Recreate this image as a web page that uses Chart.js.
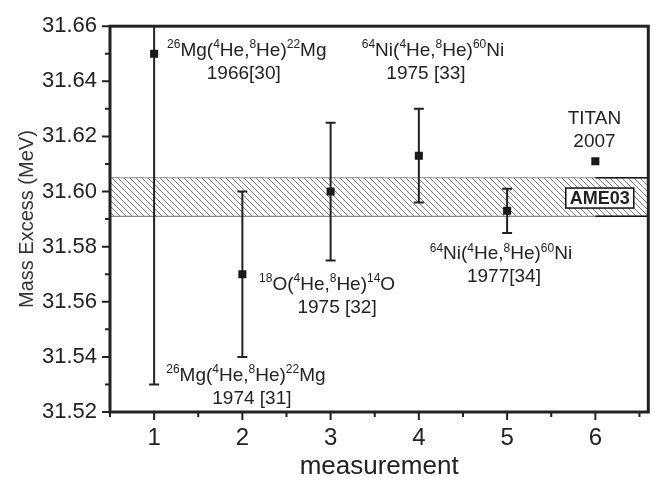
<!DOCTYPE html>
<html>
<head>
<meta charset="utf-8">
<script src="https://cdn.jsdelivr.net/npm/chart.js@4.4.0/dist/chart.umd.min.js"></script>
<style>
    html, body { margin: 0; padding: 0; background: #fff; }
</style>
</head>
<body>
<canvas id="myChart" width="654" height="482"></canvas>
<script>
// Dane
const measurements = [1, 2, 3, 4, 5, 6];
const massExcess = [31.650, 31.570, 31.600, 31.613, 31.593, 31.611];
const errors = [0.120, 0.030, 0.025, 0.017, 0.008, 0.0007];
const ame03Band = [31.591, 31.605];
const xTicks = [1, 2, 3, 4, 5, 6];
const xMinorTicks = [0.5, 1.5, 2.5, 3.5, 4.5, 5.5, 6.5];
const yTicks = [31.52, 31.54, 31.56, 31.58, 31.60, 31.62, 31.64, 31.66];
const yMinorTicks = [31.53, 31.55, 31.57, 31.59, 31.61, 31.63, 31.65];

// Opisy punktow (^ = indeks gorny), shift = przesuniecie drugiej linii w px
const notes = [
    { x: 2.05, y: 31.6493, shift: -3, lines: ['^26Mg(^4He,^8He)^22Mg', '1966[30]'] },
    { x: 4.16, y: 31.6493, shift: -7, lines: ['^64Ni(^4He,^8He)^60Ni', '1975 [33]'] },
    { x: 5.99, y: 31.6245, shift: 0, lines: ['TITAN', '2007'] },
    { x: 4.93, y: 31.5754, shift: 3, lines: ['^64Ni(^4He,^8He)^60Ni', '1977[34]'] },
    { x: 2.96, y: 31.5644, shift: 10, lines: ['^18O(^4He,^8He)^14O', '1975 [32]'] },
    { x: 2.04, y: 31.5314, shift: 6, lines: ['^26Mg(^4He,^8He)^22Mg', '1974 [31]'] }
];

const FONT = '"Liberation Sans", Arial, sans-serif';
const INK = '#222';

function hatchPattern(ctx) {
    const c = document.createElement('canvas');
    c.width = 6; c.height = 6;
    const g = c.getContext('2d');
    g.strokeStyle = '#6a6a6a';
    g.lineWidth = 0.9;
    g.beginPath();
    g.moveTo(-1, -1); g.lineTo(7, 7);
    g.moveTo(-1, 5); g.lineTo(1, 7);
    g.moveTo(5, -1); g.lineTo(7, 1);
    g.stroke();
    return ctx.createPattern(c, 'repeat');
}

function drawRich(ctx, str, cx, y, size) {
    const parts = [];
    str.replace(/\^(\d+)|([^^]+)/g, (m, sup, txt) => {
        parts.push(sup ? { t: sup, sup: true } : { t: txt, sup: false });
    });
    const supSize = Math.round(size * 0.64);
    let w = 0;
    parts.forEach(p => {
        ctx.font = (p.sup ? supSize : size) + 'px ' + FONT;
        p.w = ctx.measureText(p.t).width;
        w += p.w;
    });
    let x = cx - w / 2;
    parts.forEach(p => {
        ctx.font = (p.sup ? supSize : size) + 'px ' + FONT;
        ctx.fillText(p.t, x, p.sup ? y - size * 0.4 : y);
        x += p.w;
    });
}

// Pas AME03 i slupki bledow
const backdrop = {
    id: 'backdrop',
    beforeDatasetsDraw(chart) {
        const { ctx, chartArea: a, scales: { x, y } } = chart;
        const top = y.getPixelForValue(ame03Band[1]);
        const bot = y.getPixelForValue(ame03Band[0]);
        ctx.save();
        ctx.fillStyle = hatchPattern(ctx);
        ctx.fillRect(a.left, top, a.right - a.left, bot - top);
        ctx.strokeStyle = '#8a8a8a';
        ctx.lineWidth = 1.2;
        ctx.beginPath();
        ctx.moveTo(a.left, top); ctx.lineTo(a.right, top);
        ctx.moveTo(a.left, bot); ctx.lineTo(a.right, bot);
        ctx.stroke();
        const x6 = x.getPixelForValue(6);
        ctx.strokeStyle = '#111';
        ctx.lineWidth = 1.5;
        ctx.beginPath();
        ctx.moveTo(x6, top); ctx.lineTo(a.right, top);
        ctx.moveTo(x6, bot); ctx.lineTo(a.right, bot);
        ctx.stroke();

        // etykieta AME03
        ctx.font = 'bold 18px ' + FONT;
        const tw = ctx.measureText('AME03').width;
        const bx = x.getPixelForValue(6.05) - tw / 2 - 4;
        const by = (top + bot) / 2 - 9;
        ctx.fillStyle = '#fff';
        ctx.fillRect(bx, by, tw + 8, 20);
        ctx.strokeStyle = '#111';
        ctx.lineWidth = 1.5;
        ctx.strokeRect(bx, by, tw + 8, 20);
        ctx.fillStyle = INK;
        ctx.textAlign = 'left';
        ctx.textBaseline = 'middle';
        ctx.fillText('AME03', bx + 4, by + 11);

        // slupki bledow
        ctx.beginPath();
        ctx.rect(a.left, a.top, a.right - a.left, a.bottom - a.top);
        ctx.clip();
        ctx.strokeStyle = INK;
        ctx.lineWidth = 2;
        measurements.forEach((m, i) => {
            const px = x.getPixelForValue(m);
            const hi = y.getPixelForValue(massExcess[i] + errors[i]);
            const lo = y.getPixelForValue(massExcess[i] - errors[i]);
            if (lo - hi < 10) return;
            ctx.beginPath();
            ctx.moveTo(px, hi); ctx.lineTo(px, lo);
            ctx.moveTo(px - 5, hi); ctx.lineTo(px + 5, hi);
            ctx.moveTo(px - 5, lo); ctx.lineTo(px + 5, lo);
            ctx.stroke();
        });
        ctx.restore();
    },
    afterDraw(chart) {
        const { ctx, chartArea: a, scales: { x, y } } = chart;
        ctx.save();
        ctx.strokeStyle = INK;
        ctx.lineWidth = 2;
        ctx.beginPath();
        xTicks.forEach(v => { const p = x.getPixelForValue(v); ctx.moveTo(p, a.bottom); ctx.lineTo(p, a.bottom + 8); });
        xMinorTicks.forEach(v => { const p = x.getPixelForValue(v); ctx.moveTo(p, a.bottom); ctx.lineTo(p, a.bottom + 5); });
        yTicks.forEach(v => { const p = y.getPixelForValue(v); ctx.moveTo(a.left, p); ctx.lineTo(a.left - 8, p); });
        yMinorTicks.forEach(v => { const p = y.getPixelForValue(v); ctx.moveTo(a.left, p); ctx.lineTo(a.left - 5, p); });
        ctx.stroke();
        ctx.lineWidth = 3;
        ctx.strokeRect(a.left, a.top, a.right - a.left, a.bottom - a.top);

        ctx.fillStyle = INK;
        ctx.textAlign = 'left';
        ctx.textBaseline = 'alphabetic';
        notes.forEach(n => {
            const px = x.getPixelForValue(n.x);
            const py = y.getPixelForValue(n.y);
            drawRich(ctx, n.lines[0], px, py, 19);
            drawRich(ctx, n.lines[1], px + n.shift, py + 23, 19);
        });
        ctx.restore();
    }
};

new Chart('myChart', {
    type: 'scatter',
    data: {
        datasets: [{
            data: measurements.map((m, i) => ({ x: m, y: massExcess[i] })),
            pointStyle: 'rect',
            pointRadius: 5.7,
            pointBorderWidth: 0,
            backgroundColor: '#1a1a1a'
        }]
    },
    options: {
        responsive: false,
        animation: false,
        devicePixelRatio: 1,
        layout: { padding: { top: 18, right: 5, left: 0, bottom: 0 } },
        plugins: { legend: { display: false }, tooltip: { enabled: false } },
        scales: {
            x: {
                type: 'linear',
                min: 0.5,
                max: 6.6,
                afterBuildTicks: s => { s.ticks = xTicks.map(v => ({ value: v })); },
                afterFit: s => { s.height = 70; },
                grid: { display: false, drawTicks: false },
                border: { display: false },
                ticks: { color: INK, padding: 12, font: { family: FONT, size: 24 } },
                title: { display: true, text: 'measurement', color: INK, padding: { top: 0, bottom: 0 }, font: { family: FONT, size: 26 } }
            },
            y: {
                min: 31.52,
                max: 31.66,
                afterBuildTicks: s => { s.ticks = yTicks.map(v => ({ value: v })); },
                afterFit: s => { s.width = 110; },
                grid: { display: false, drawTicks: false },
                border: { display: false },
                ticks: { color: INK, padding: 13, font: { family: FONT, size: 22 }, callback: v => v.toFixed(2) },
                title: { display: true, text: 'Mass Excess (MeV)', color: '#333', padding: { top: 15, bottom: 0 }, font: { family: FONT, size: 20 } }
            }
        }
    },
    plugins: [backdrop]
});
</script>
</body>
</html>
